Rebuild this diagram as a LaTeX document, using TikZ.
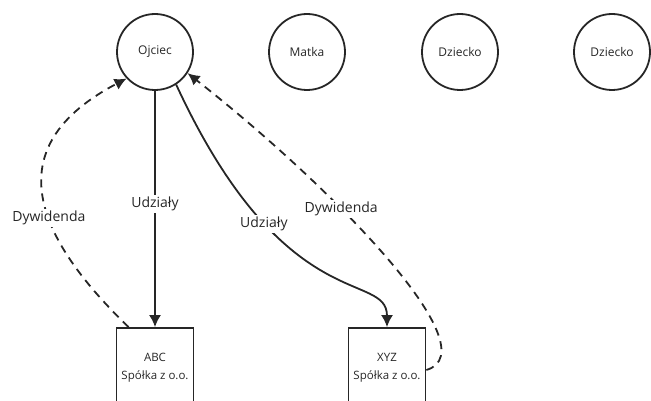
\documentclass[tikz,border=0pt]{standalone}
\usepackage{fontspec}
\setmainfont{Open Sans}
\usetikzlibrary{arrows.meta}
\begin{document}
\begin{tikzpicture}[x=1pt,y=-1pt,
    line width=1.8pt, color=black!85,
    person/.style={draw,circle,minimum size=76pt,inner sep=0pt,font=\fontsize{12}{14}\selectfont},
    company/.style={draw,rectangle,minimum width=77pt,minimum height=80pt,align=center,font=\fontsize{11.5}{18}\selectfont},
    share/.style={-{Latex[length=12pt,width=12pt]}},
    payout/.style={-{Latex[length=12pt,width=12pt]},dash pattern=on 8pt off 6pt},
    lbl/.style={fill=white,inner sep=2pt,font=\fontsize{14}{16}\selectfont}]
    \useasboundingbox (0,0) rectangle (651,401);

    \begin{scope}
      \node[person] (O)  at (155,52) {Ojciec};
      \node[person] (M)  at (307,52) {Matka};
      \node[person] (D1) at (460,52) {Dziecko};
      \node[person] (D2) at (612,52) {Dziecko};
      \node[company] (ABC) at (155,368) {ABC\\Spółka z o.o.};
      \node[company] (XYZ) at (387,368) {XYZ\\Spółka z o.o.};
    \end{scope}

    \draw[share]  (O) -- (ABC) node[lbl,pos=0.48] {Udziały};
    \draw[share]  (O.-57) .. controls (285,320) and (387,270) .. (XYZ.north) node[lbl,pos=0.28] {Udziały};

    \draw[payout] ([xshift=13pt]ABC.north west) .. controls (30,232) and (0,145) .. (O.-137) node[lbl,pos=0.4] {Dywidenda};
    \draw[payout] ([yshift=-2pt]XYZ.east) .. controls (492,350) and (330,185) .. (O.-33) node[lbl,pos=0.63] {Dywidenda};
  \end{tikzpicture}
\end{document}
